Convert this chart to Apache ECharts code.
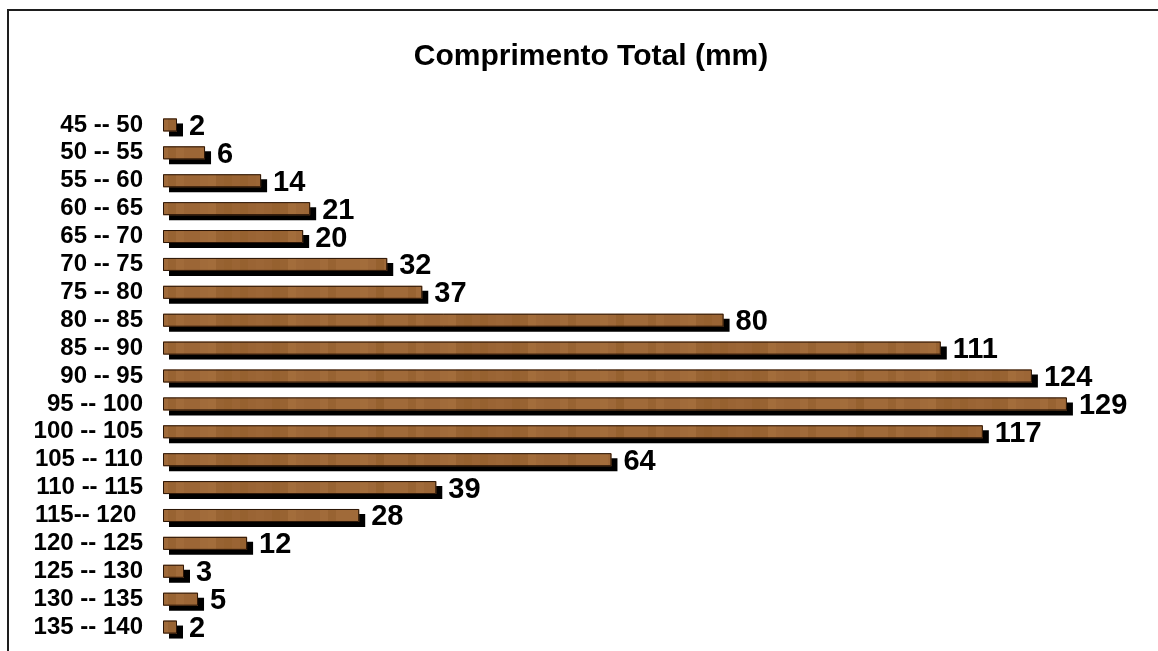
<!DOCTYPE html>
<html>
<head>
<meta charset="utf-8">
<script src="https://cdn.jsdelivr.net/npm/echarts@6/dist/echarts.min.js"></script>
<style>
  html, body { margin: 0; padding: 0; background: #fff; }
  #chart { width: 1158px; height: 651px; }
</style>
</head>
<body>
<div id="chart"></div>
<script>
// Length classes (mm) and the number of fish in each class
const classes = [
  '45 -- 50', '50 -- 55', '55 -- 60', '60 -- 65', '65 -- 70',
  '70 -- 75', '75 -- 80', '80 -- 85', '85 -- 90', '90 -- 95',
  '95 -- 100', '100 -- 105', '105 -- 110', '110 -- 115', '115-- 120 ',
  '120 -- 125', '125 -- 130', '130 -- 135', '135 -- 140'
];
const counts = [2, 6, 14, 21, 20, 32, 37, 80, 111, 124, 129, 117, 64, 39, 28, 12, 3, 5, 2];
const chartTitle = 'Comprimento Total (mm)';

const FONT = 'Liberation Sans, Arial, sans-serif';

// Wood-grain fill for the bars, painted once on a small canvas
function woodTexture() {
  const c = document.createElement('canvas');
  c.width = 240; c.height = 14;
  const g = c.getContext('2d');
  const shades = ['#9c6636', '#a06a39', '#986332', '#a36d3b', '#96612f', '#9e6838', '#a16b3a', '#9a6434'];
  for (let x = 0; x < c.width; x += 8) {
    const k = Math.abs(Math.floor(3.7 * Math.sin(x * 0.11) + 2.3 * Math.sin(x * 0.037) + 4)) % shades.length;
    g.fillStyle = shades[k];
    g.fillRect(x, 0, 8, c.height);
  }
  return c;
}

const chart = echarts.init(document.getElementById('chart'), null, { renderer: 'canvas' });

chart.setOption({
  backgroundColor: '#ffffff',
  animation: false,
  title: {
    text: chartTitle,
    left: 586,
    top: 37,
    textAlign: 'center',
    textStyle: { fontFamily: FONT, fontSize: 30, fontWeight: 'bold', color: '#000' }
  },
  graphic: [{
    type: 'rect',
    silent: true,
    shape: { x: 8, y: 10, width: 1200, height: 700 },
    style: { fill: 'none', stroke: '#1e1e1e', lineWidth: 2 }
  }],
  grid: { left: 163, right: 14, top: 111, bottom: 10, containLabel: false },
  xAxis: { type: 'value', min: 0, max: 140, show: false },
  yAxis: {
    type: 'category',
    data: classes,
    inverse: true,
    axisLine: { show: false },
    axisTick: { show: false },
    splitLine: { show: false },
    axisLabel: {
      interval: 0,
      margin: 20,
      fontFamily: FONT,
      fontSize: 24,
      fontWeight: 'bold',
      color: '#000'
    }
  },
  series: [
    {
      // textured body with its hard drop shadow
      type: 'bar',
      data: counts,
      barWidth: 13,
      itemStyle: {
        color: { image: woodTexture(), repeat: 'repeat' },
        borderWidth: 0,
        shadowColor: '#000',
        shadowBlur: 0,
        shadowOffsetX: 6,
        shadowOffsetY: 5
      }
    },
    {
      // outline and value label drawn over the same bars
      type: 'bar',
      data: counts,
      barWidth: 13,
      barGap: '-100%',
      itemStyle: {
        color: 'rgba(0,0,0,0)',
        borderColor: '#2a1507',
        borderWidth: 1
      },
      label: {
        show: true,
        position: 'right',
        distance: 12,
        offset: [0, 2],
        fontFamily: FONT,
        fontSize: 29,
        fontWeight: 'bold',
        color: '#000'
      }
    }
  ]
});
</script>
</body>
</html>
